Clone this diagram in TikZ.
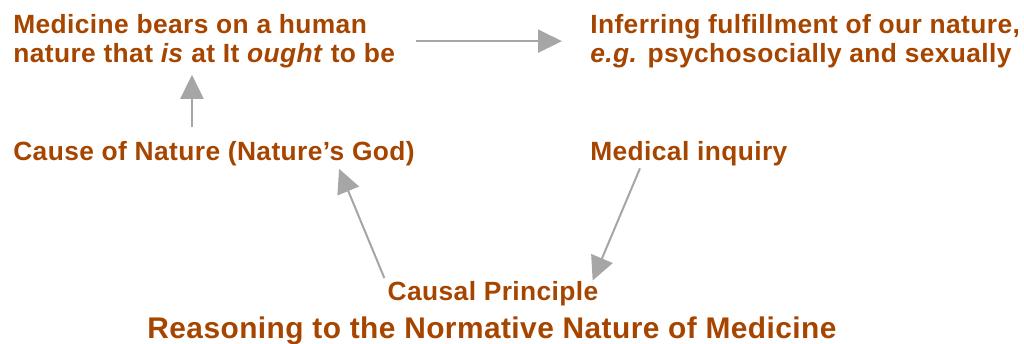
\documentclass[tikz,border=0pt]{standalone}
\usepackage{fontspec}
\setmainfont{Liberation Sans}[LetterSpace=1.5]
\usepackage{tikz}
\usetikzlibrary{arrows.meta, calc}

\definecolor{rust}{RGB}{166,69,0}
\definecolor{arrowgray}{RGB}{166,166,166}

\tikzset{
  label text/.style={text=rust, font=\bfseries\fontsize{15}{16.5}\selectfont, inner sep=0pt, align=left},
  title text/.style={text=rust, font=\bfseries\fontsize{17}{19}\selectfont, inner sep=0pt},
  flow/.style={draw=arrowgray, line width=1.15pt, -{Triangle[length=0.48cm, width=0.46cm]}}
}

\begin{document}
\begin{tikzpicture}[x=0.02cm, y=-0.02cm]
        \useasboundingbox (0,0) rectangle (1024,343);

        % Label nodes
        \node[label text, anchor=north west] (medicine) at (13,14)
          {Medicine bears on a human\\nature that \textit{is} at It \textit{ought} to be};
        \node[label text, anchor=north west] (inferring) at (590,14)
          {Inferring fulfillment of our nature,\\\textit{e.g.} psychosocially and sexually};
        \node[label text, anchor=base west] (cause) at (13,160) {Cause of Nature (Nature’s God)};
        \node[label text, anchor=base west] (medical) at (590,160) {Medical inquiry};
        \node[label text, anchor=base] (causal) at (493,300) {Causal Principle};
        \node[title text, anchor=base] (title) at (492,338) {Reasoning to the Normative Nature of Medicine};

        % Arrows
        \draw[flow] ([xshift=0.42cm]medicine.east) -- ([xshift=-0.56cm]inferring.west);
        \draw[flow] ([xshift=3.58cm, yshift=0.27cm]cause.north west) -- ([xshift=3.58cm, yshift=-0.13cm]medicine.south west);
        \draw[flow] ([xshift=-0.06cm, yshift=0.05cm]causal.north west) -- ([xshift=-1.52cm, yshift=-0.06cm]cause.south east);
        \draw[flow] ([xshift=1cm, yshift=-0.05cm]medical.south west) -- ([xshift=-0.12cm]causal.north east);
    \end{tikzpicture}
\end{document}
